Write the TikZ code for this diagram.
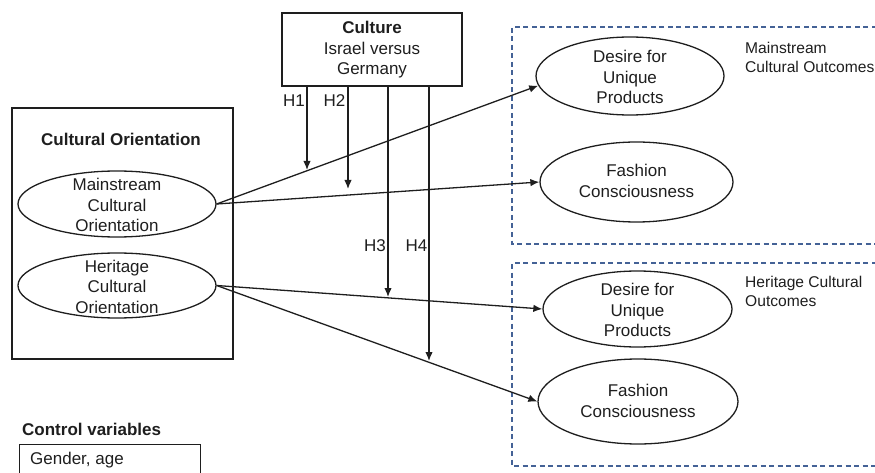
\documentclass[tikz,border=0pt]{standalone}
\usepackage{fontspec}
\setmainfont{Liberation Sans}
\usetikzlibrary{shapes.geometric,arrows.meta}
\definecolor{dblue}{RGB}{68,98,150}
\definecolor{ink}{RGB}{30,30,30}
\begin{document}
\begin{tikzpicture}[x=1pt,y=-1pt,
  every node/.style={font=\fontsize{17}{20.5}\selectfont, text=ink},
  box/.style={draw=ink, line width=1.3pt, inner sep=0},
  ell/.style={draw=ink, ellipse, line width=1.3pt, inner sep=0},
  txt/.style={align=center, inner sep=0},
  arr/.style={draw=ink, line width=1.3pt, -{Latex[length=9pt,width=7.5pt]}},
  dbox/.style={draw=dblue, dash pattern=on 5pt off 3.5pt, line width=1.3pt},
  small/.style={font=\fontsize{15.6}{19}\selectfont, align=left, inner sep=0, anchor=north west}
]
\useasboundingbox (0,0) rectangle (875,473);
\clip (0,0) rectangle (875,473);

% Culture box
\node[box, minimum width=180, minimum height=73] (cul) at (372,49.5) {};
\node[txt] (cult) at (372,50) {\textbf{Culture}\\Israel versus\\Germany};

% Cultural orientation box
\node[box, minimum width=221, minimum height=251] (co) at (122.5,233.5) {};
\node[txt] (cot) at (121,139) {\textbf{Cultural Orientation}};
\node[ell, minimum width=198, minimum height=66] (mo) at (117,204) {};
\node[txt] (mot) at (117,205) {Mainstream\\Cultural\\Orientation};
\node[ell, minimum width=198, minimum height=65] (ho) at (117,285.5) {};
\node[txt] (hot) at (117,286.5) {Heritage\\Cultural\\Orientation};

% Dashed outcome boxes
\draw[dbox] (885,27) -- (512,27) -- (512,244) -- (885,244);
\draw[dbox] (885,263) -- (512,263) -- (512,466) -- (885,466);

% Outcome ellipses
\node[ell, minimum width=188, minimum height=78] (d1) at (630,76) {};
\node[txt] (d1t) at (630,77) {Desire for\\Unique\\Products};
\node[ell, minimum width=193, minimum height=80] (f1) at (636.5,182) {};
\node[txt] (f1t) at (636.5,181) {Fashion\\Consciousness};
\node[ell, minimum width=189, minimum height=76] (d2) at (637.5,309) {};
\node[txt] (d2t) at (637.5,310) {Desire for\\Unique\\Products};
\node[ell, minimum width=200, minimum height=85] (f2) at (638,401.5) {};
\node[txt] (f2t) at (638,401) {Fashion\\Consciousness};

% Group labels
\node[small] (ml) at (745,42) {Mainstream\\Cultural Outcomes};
\node[small] (hl) at (745,276) {Heritage Cultural\\Outcomes};

% Control variables
\node[anchor=west, inner sep=0] (cvt) at (22,429) {\textbf{Control variables}};
\node[box, anchor=north west, minimum width=181, minimum height=45] (cv) at (19,444) {};
\node[anchor=west, inner sep=0] (cvx) at (30,460) {Gender, age};

% Main paths
\draw[arr] (mo.east) -- (d1.186);
\draw[arr] (mo.east) -- (f1.west);
\draw[arr] (ho.east) -- (d2.west);
\draw[arr] (ho.east) -- (f2.west);

% Moderation arrows
\coordinate (e1) at (307,170);
\coordinate (e2) at (348,189);
\coordinate (e3) at (388,297);
\coordinate (e4) at (429,361);
\draw[arr] (cul.south -| e1) -- (e1);
\draw[arr] (cul.south -| e2) -- (e2);
\draw[arr] (cul.south -| e3) -- (e3);
\draw[arr] (cul.south -| e4) -- (e4);

\node[inner sep=0] (h1) at (294,101) {H1};
\node[inner sep=0] (h2) at (334.5,101) {H2};
\node[inner sep=0] (h3) at (375,246) {H3};
\node[inner sep=0] (h4) at (416.5,246) {H4};
\end{tikzpicture}
\end{document}
